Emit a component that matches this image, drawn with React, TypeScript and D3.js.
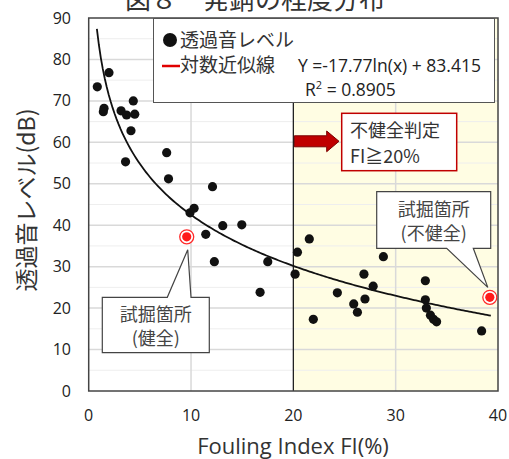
import React, { useEffect, useRef } from "react"
import * as d3 from "d3"

// observed points (FI %, transmitted sound dB)
const fi = [0.84, 1.98, 1.5, 1.43, 4.36, 3.16, 3.7, 4.5, 4.13, 7.62, 3.6, 7.8, 12.1, 9.9, 10.3,
  11.44, 13.1, 14.96, 12.28, 17.5, 16.75, 20.4, 20.17, 21.56, 28.8, 26.9, 27.8, 24.3, 27.0,
  25.9, 21.95, 26.26, 32.9, 32.9, 33.0, 33.4, 33.7, 34.0, 38.4]
const level = [73.4, 76.8, 68.2, 67.4, 70.0, 67.6, 66.6, 66.8, 62.8, 57.5, 55.3, 51.2, 49.3, 43.0, 44.1,
  37.8, 39.9, 40.1, 31.2, 31.2, 23.8, 33.5, 28.2, 36.7, 32.4, 28.2, 25.3, 23.7, 22.2,
  21.0, 17.3, 19.0, 26.6, 22.0, 20.0, 18.3, 17.3, 16.7, 14.5]
// test excavation sites (healthy, unhealthy)
const siteFi = [9.58, 39.2]
const siteLevel = [37.2, 22.6]

const xTicks = [0, 10, 20, 30, 40]
const yTicks = [0, 10, 20, 30, 40, 50, 60, 70, 80, 90]
const trendA = -17.77
const trendB = 83.415
const trendRange = [0.8, 39.3]

const W = 509
const H = 459

export default function App() {
  const ref = useRef<SVGSVGElement>(null)

  useEffect(() => {
    const svg = d3.select(ref.current)
    svg.selectAll("*").remove()

    const x = d3.scaleLinear().domain([0, 40]).range([88.7, 498])
    const y = d3.scaleLinear().domain([0, 90]).range([391, 18])
    const jp = "'Noto Sans CJK JP', sans-serif"
    const lat = "'Open Sans', 'Noto Sans', sans-serif"

    svg.append("rect").attr("width", W).attr("height", H).attr("fill", "white")

    // title (mostly cut off at top)
    svg.append("text").attr("x", 255).attr("y", 9).attr("text-anchor", "middle")
      .attr("font-family", jp).attr("font-size", 26).attr("fill", "#333")
      .text("図８　発錆の程度分布")

    // unhealthy region
    svg.append("rect").attr("x", x(20)).attr("y", y(90)).attr("width", x(40) - x(20))
      .attr("height", y(0) - y(90)).attr("fill", "#FFFDE3")

    // grid
    const g = svg.append("g")
    g.selectAll("line.minor").data(d3.range(5, 90, 10)).join("line")
      .attr("x1", x(0)).attr("x2", x(40)).attr("y1", d => y(d)).attr("y2", d => y(d))
      .attr("stroke", "#eeeeee").attr("stroke-width", 1)
    g.selectAll("line.major").data(yTicks.slice(1, -1)).join("line")
      .attr("x1", x(0)).attr("x2", x(40)).attr("y1", d => y(d)).attr("y2", d => y(d))
      .attr("stroke", "#d9d9d9").attr("stroke-width", 1.5)
    g.selectAll("line.vx").data([10, 30]).join("line")
      .attr("x1", d => x(d)).attr("x2", d => x(d)).attr("y1", y(0)).attr("y2", y(90))
      .attr("stroke", "#d9d9d9").attr("stroke-width", 1.5)
    svg.append("line").attr("x1", x(20)).attr("x2", x(20)).attr("y1", y(0)).attr("y2", y(90))
      .attr("stroke", "#222").attr("stroke-width", 1.3)

    // plot frame
    svg.append("rect").attr("x", x(0)).attr("y", y(90)).attr("width", x(40) - x(0))
      .attr("height", y(0) - y(90)).attr("fill", "none").attr("stroke", "#444").attr("stroke-width", 1.5)

    // tick labels
    svg.append("g").selectAll("text").data(yTicks).join("text")
      .attr("x", 71).attr("y", d => y(d) + 5.5).attr("text-anchor", "end")
      .attr("font-family", lat).attr("font-size", 16).attr("fill", "#222").text(d => d)
    svg.append("g").selectAll("text").data(xTicks).join("text")
      .attr("x", d => x(d)).attr("y", 421).attr("text-anchor", "middle")
      .attr("font-family", lat).attr("font-size", 16).attr("fill", "#222").text(d => d)

    // axis titles
    svg.append("text").attr("x", 293).attr("y", 454).attr("text-anchor", "middle")
      .attr("font-family", lat).attr("font-size", 22).attr("fill", "#333").text("Fouling Index FI(%)")
    svg.append("text").attr("transform", "translate(35,200) rotate(-90)").attr("text-anchor", "middle")
      .attr("font-family", jp).attr("font-size", 23).attr("fill", "#333").text("透過音レベル(dB)")

    // trend line
    const tx = d3.range(0, 201).map(i => trendRange[0] + (trendRange[1] - trendRange[0]) * i / 200)
    const line = d3.line<number>().x(d => x(d)).y(d => y(trendA * Math.log(d) + trendB))
    svg.append("path").attr("d", line(tx)).attr("fill", "none").attr("stroke", "#111").attr("stroke-width", 1.8)

    // points
    svg.append("g").selectAll("circle").data(fi).join("circle")
      .attr("cx", d => x(d)).attr("cy", (d, i) => y(level[i])).attr("r", 4.6).attr("fill", "#111")

    // legend
    svg.append("rect").attr("x", 153.5).attr("y", 18.5).attr("width", 341).attr("height", 84)
      .attr("fill", "white").attr("stroke", "#555").attr("stroke-width", 1)
    svg.append("circle").attr("cx", 170).attr("cy", 40).attr("r", 7).attr("fill", "#111")
    svg.append("text").attr("x", 180).attr("y", 47).attr("font-family", jp).attr("font-size", 19)
      .attr("fill", "#333").text("透過音レベル")
    svg.append("line").attr("x1", 162).attr("x2", 180).attr("y1", 66).attr("y2", 66)
      .attr("stroke", "#e00000").attr("stroke-width", 2.5)
    svg.append("text").attr("x", 180).attr("y", 72).attr("font-family", jp).attr("font-size", 19)
      .attr("fill", "#333").text("対数近似線")
    svg.append("text").attr("x", 298).attr("y", 72).attr("font-family", lat).attr("font-size", 17.5)
      .attr("fill", "#222").text("Y =-17.77ln(x) + 83.415")
    const r2 = svg.append("text").attr("x", 305).attr("y", 96).attr("font-family", lat).attr("font-size", 17.5)
      .attr("fill", "#222")
    r2.append("tspan").text("R")
    r2.append("tspan").attr("dy", -7).attr("font-size", 11).text("2")
    r2.append("tspan").attr("dy", 7).text(" = 0.8905")

    // red arrow
    const ay = 141.3
    svg.append("path")
      .attr("d", `M${x(20) + 1},${ay - 5.5}H326.7V131L339,${ay}L326.7,151.7V${ay + 5.5}H${x(20) + 1}Z`)
      .attr("fill", "#C00000").attr("stroke", "#7a0000").attr("stroke-width", 1)

    // judgement box
    svg.append("rect").attr("x", 341.7).attr("y", 113.3).attr("width", 115).attr("height", 57.4)
      .attr("fill", "white").attr("stroke", "#C00000").attr("stroke-width", 1.5)
    svg.append("text").attr("x", 350).attr("y", 137).attr("font-family", jp).attr("font-size", 18)
      .attr("fill", "#333").text("不健全判定")
    svg.append("text").attr("x", 350).attr("y", 163).attr("font-family", jp).attr("font-size", 18)
      .attr("fill", "#333").text("FI≧20%")

    // callouts
    const callout = (bx: number, by: number, bw: number, bh: number, p1: number, p2: number,
      tip: [number, number], top: boolean, lines: string[]) => {
      const path = top
        ? `M${bx},${by}H${p1}L${tip[0]},${tip[1]}L${p2},${by}H${bx + bw}V${by + bh}H${bx}Z`
        : `M${bx},${by}H${bx + bw}V${by + bh}H${p2}L${tip[0]},${tip[1]}L${p1},${by + bh}H${bx}Z`
      svg.append("path").attr("d", path).attr("fill", "white").attr("stroke", "#444").attr("stroke-width", 1.2)
      lines.forEach((t, i) => {
        svg.append("text").attr("x", bx + bw / 2).attr("y", by + 24 + i * 24).attr("text-anchor", "middle")
          .attr("font-family", jp).attr("font-size", 18).attr("fill", "#444").text(t)
      })
    }
    callout(102.3, 297.3, 107, 55.4, 167.3, 191, [x(siteFi[0]) + 1, y(siteLevel[0]) + 13], true, ["試掘箇所", "(健全)"])
    callout(376.7, 191.7, 114, 56.6, 446.7, 473.3, [x(siteFi[1]) - 2, y(siteLevel[1]) - 10], false, ["試掘箇所", "(不健全)"])

    // excavation sites
    const sites = svg.append("g").selectAll("g").data(siteFi).join("g")
      .attr("transform", (d, i) => `translate(${x(d)},${y(siteLevel[i])})`)
    sites.append("circle").attr("r", 7).attr("fill", "white").attr("stroke", "#ff2a2a").attr("stroke-width", 1.3)
    sites.append("circle").attr("r", 4.6).attr("fill", "#ff1a1a")
  }, [])

  return <svg ref={ref} width={W} height={H} style={{ position: "absolute", left: 0, top: 0 }} />
}
